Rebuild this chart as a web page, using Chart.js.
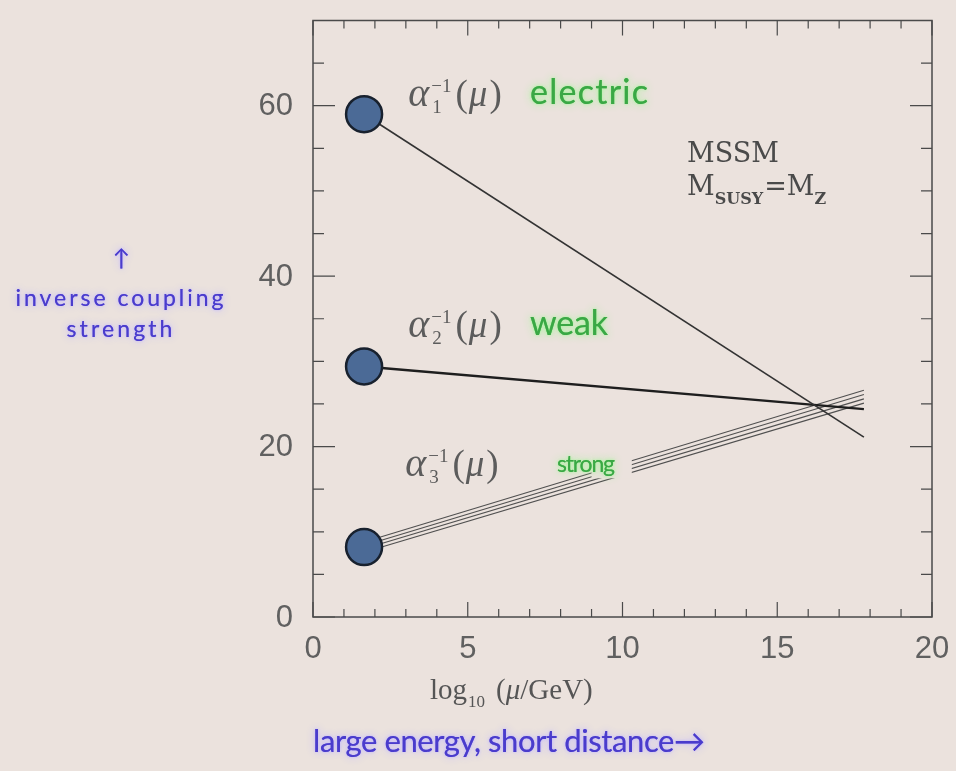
<!DOCTYPE html>
<html>
<head>
<meta charset="utf-8">
<script src="https://cdn.jsdelivr.net/npm/chart.js@4.4.1/dist/chart.umd.min.js"></script>
<style>
  html, body { margin: 0; padding: 0; background: #ebe2dd; }
  #wrap { width: 956px; height: 771px; position: relative; }
</style>
</head>
<body>
<div id="wrap"><canvas id="c" width="956" height="771"></canvas></div>
<script>
// Running inverse gauge couplings in the MSSM (M_SUSY = M_Z), one-loop
const muStart = 1.65;            // log10(mu/GeV) at the Z mass
const muEnd = 17.8;              // end of the running
const alpha1Inv = [59.0, 21.1];  // U(1)  electric
const alpha2Inv = [29.4, 24.4];  // SU(2) weak
const alpha3InvLow = [7.6, 8.0, 8.4, 8.8];       // SU(3) strong band at muStart
const alpha3InvHigh = [25.1, 25.6, 26.1, 26.6];  // SU(3) strong band at muEnd
const measured = [59.0, 29.4, 8.2];              // values at the Z mass
const xMajorTicks = [0, 5, 10, 15, 20];
const yMajorTicks = [0, 20, 40, 60];
const forceNames = ['electric', 'weak', 'strong'];
const couplingIndex = ['1', '2', '3'];

const BG = '#ebe2dd';
const INK = '#4a4a4a';

function seg(a, b) {
  return [{ x: muStart, y: a }, { x: muEnd, y: b }];
}

const datasets = [
  {
    label: 'measured',
    data: measured.map(v => ({ x: muStart, y: v })),
    showLine: false,
    pointRadius: 18,
    pointHoverRadius: 18,
    backgroundColor: '#4b6a96',
    borderColor: '#18212e',
    borderWidth: 2.5
  },
  {
    label: 'alpha1',
    data: seg(alpha1Inv[0], alpha1Inv[1]),
    showLine: true, pointRadius: 0,
    borderColor: '#333', borderWidth: 1.6
  },
  {
    label: 'alpha2',
    data: seg(alpha2Inv[0], alpha2Inv[1]),
    showLine: true, pointRadius: 0,
    borderColor: '#1e1e1e', borderWidth: 2.4
  }
];
alpha3InvLow.forEach((v, i) => {
  datasets.push({
    label: 'alpha3_' + i,
    data: seg(v, alpha3InvHigh[i]),
    showLine: true, pointRadius: 0,
    borderColor: '#505050', borderWidth: 1.1
  });
});

function spacedText(ctx, text, x, y, width) {
  const w = ctx.measureText(text).width;
  const n = [...text].length;
  if (width && 'letterSpacing' in ctx && n > 1) {
    ctx.letterSpacing = ((width - w) / (n - 1)).toFixed(2) + 'px';
  }
  ctx.fillText(text, x, y);
  if ('letterSpacing' in ctx) ctx.letterSpacing = '0px';
}

function glowText(ctx, text, x, y, width, color, glow) {
  ctx.save();
  ctx.fillStyle = color;
  ctx.shadowColor = glow;
  ctx.shadowBlur = 8;
  spacedText(ctx, text, x, y, width);
  ctx.shadowBlur = 3;
  spacedText(ctx, text, x, y, width);
  ctx.restore();
}

// alpha_i^{-1}(mu)
function couplingLabel(ctx, x, y, idx) {
  ctx.save();
  ctx.fillStyle = '#5c5c5c';
  ctx.textBaseline = 'alphabetic';
  ctx.textAlign = 'left';
  ctx.font = 'italic 40px "Liberation Serif"';
  ctx.fillText('α', x, y);
  let cx = x + ctx.measureText('α').width + 2;
  ctx.font = '19px "Liberation Serif"';
  ctx.fillText('−1', cx, y - 14);
  ctx.fillText(idx, cx + 1, y + 7);
  cx += ctx.measureText('−1').width + 4;
  ctx.font = '37px "Liberation Serif"';
  ctx.fillText('(', cx, y);
  cx += ctx.measureText('(').width + 1;
  ctx.font = 'italic 37px "Liberation Serif"';
  ctx.fillText('μ', cx, y);
  cx += ctx.measureText('μ').width + 2;
  ctx.font = '37px "Liberation Serif"';
  ctx.fillText(')', cx, y);
  ctx.restore();
}

const decorations = {
  id: 'decorations',
  beforeDatasetsDraw(chart) {
    const { ctx, chartArea: a, scales: { x, y } } = chart;
    ctx.save();
    ctx.strokeStyle = INK;
    ctx.lineWidth = 1.5;
    ctx.strokeRect(a.left, a.top, a.right - a.left, a.bottom - a.top);
    ctx.lineWidth = 1.2;
    ctx.beginPath();
    for (let v = 0; v <= 20; v++) {
      const px = x.getPixelForValue(v);
      const len = v % 5 === 0 ? 15 : 8;
      ctx.moveTo(px, a.bottom); ctx.lineTo(px, a.bottom - len);
      ctx.moveTo(px, a.top); ctx.lineTo(px, a.top + len);
    }
    for (let v = 0; v <= 70; v += 5) {
      const py = y.getPixelForValue(v);
      const len = v % 20 === 0 ? 22 : 11;
      ctx.moveTo(a.left, py); ctx.lineTo(a.left + len, py);
      ctx.moveTo(a.right, py); ctx.lineTo(a.right - len, py);
    }
    ctx.stroke();

    // tick labels
    ctx.fillStyle = '#606060';
    ctx.font = '31px "Liberation Sans"';
    ctx.textAlign = 'center';
    ctx.textBaseline = 'middle';
    xMajorTicks.forEach(v => ctx.fillText(String(v), x.getPixelForValue(v), a.bottom + 32));
    ctx.textAlign = 'right';
    yMajorTicks.forEach(v => ctx.fillText(String(v), a.left - 20, y.getPixelForValue(v) + 1));
    ctx.restore();
  },
  afterDatasetsDraw(chart) {
    const { ctx, scales: { x, y } } = chart;
    ctx.save();
    // open the strong band where its label sits
    ctx.fillStyle = BG;
    const gx0 = x.getPixelForValue(9.0), gx1 = x.getPixelForValue(10.3);
    ctx.fillRect(gx0, y.getPixelForValue(20.5), gx1 - gx0, 36);

    // coupling labels
    const labelX = [x.getPixelForValue(3.08), x.getPixelForValue(3.08), x.getPixelForValue(2.98)];
    const labelY = [y.getPixelForValue(60.0), y.getPixelForValue(32.8), y.getPixelForValue(16.5)];
    couplingIndex.forEach((s, i) => couplingLabel(ctx, labelX[i], labelY[i], s));

    ctx.textBaseline = 'alphabetic';
    ctx.textAlign = 'left';
    const green = '#3aa845', greenGlow = 'rgba(160,245,150,0.95)';
    ctx.font = '34px Lato';
    glowText(ctx, forceNames[0], 530, labelY[0] - 2, 118, green, greenGlow);
    glowText(ctx, forceNames[1], 530, labelY[1] - 2, 78, green, greenGlow);
    ctx.font = '23px Lato';
    glowText(ctx, forceNames[2], 557, labelY[2] - 4, 58, green, greenGlow);

    // model text
    ctx.fillStyle = '#4a4a4a';
    ctx.font = '27px "DejaVu Serif"';
    ctx.fillText('MSSM', 687, 162);
    let cx = 687;
    ctx.fillText('M', cx, 195);
    cx += ctx.measureText('M').width;
    ctx.font = 'bold 16px "DejaVu Serif"';
    ctx.fillText('SUSY', cx, 204);
    cx += ctx.measureText('SUSY').width + 1;
    ctx.font = '27px "DejaVu Serif"';
    ctx.fillText('=', cx, 195);
    cx += ctx.measureText('=').width;
    ctx.fillText('M', cx, 195);
    cx += ctx.measureText('M').width;
    ctx.font = 'bold 16px "DejaVu Serif"';
    ctx.fillText('Z', cx, 204);

    // x-axis title: log10 (mu/GeV)
    ctx.fillStyle = '#555';
    cx = 430;
    const ty = 699;
    ctx.font = '29px "Liberation Serif"';
    ctx.fillText('log', cx, ty);
    cx += ctx.measureText('log').width + 1;
    ctx.font = '17px "Liberation Serif"';
    ctx.fillText('10', cx, ty + 8);
    cx += ctx.measureText('10').width + 11;
    ctx.font = '29px "Liberation Serif"';
    ctx.fillText('(', cx, ty);
    cx += ctx.measureText('(').width;
    ctx.font = 'italic 29px "Liberation Serif"';
    ctx.fillText('μ', cx, ty);
    cx += ctx.measureText('μ').width;
    ctx.font = '29px "Liberation Serif"';
    ctx.fillText('/GeV)', cx, ty);

    // captions
    const blue = '#4a3ccc', blueGlow = 'rgba(190,180,255,0.95)';
    ctx.font = '31px Lato';
    glowText(ctx, 'large energy, short distance→', 313, 752, 392, blue, blueGlow);
    ctx.textAlign = 'center';
    ctx.font = '23px Lato';
    glowText(ctx, '↑', 121, 266, 0, blue, blueGlow);
    glowText(ctx, 'inverse coupling', 121, 306, 208, blue, blueGlow);
    glowText(ctx, 'strength', 121, 337, 106, blue, blueGlow);
    ctx.restore();
  }
};

new Chart(document.getElementById('c'), {
  type: 'scatter',
  data: { datasets },
  options: {
    responsive: false,
    animation: false,
    events: [],
    layout: { padding: { left: 313, right: 24, top: 17, bottom: 154 } },
    plugins: { legend: { display: false }, tooltip: { enabled: false } },
    scales: {
      x: { type: 'linear', min: 0, max: 20, display: false },
      y: { type: 'linear', min: 0, max: 70, display: false }
    }
  },
  plugins: [decorations]
});
</script>
</body>
</html>
